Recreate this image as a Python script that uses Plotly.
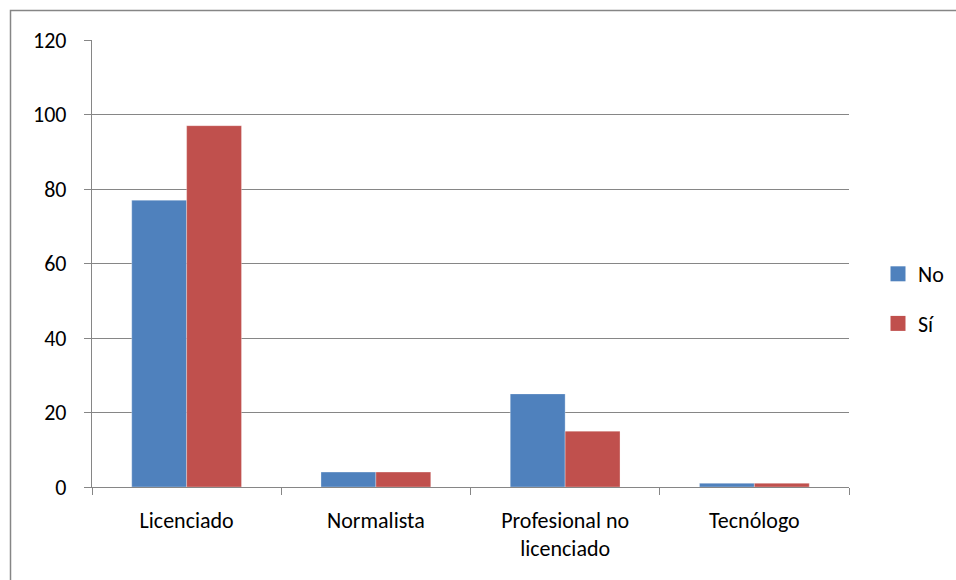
import plotly.graph_objects as go

categories = ["Licenciado", "Normalista", "Profesional no<br>licenciado", "Tecnólogo"]
series_names = ["No", "Sí"]
values_no = [77, 4, 25, 1]
values_si = [97, 4, 15, 1]
y_ticks = [0, 20, 40, 60, 80, 100, 120]

colors = ["#4F81BD", "#C0504D"]
FONT = "Calibri, Carlito, Lato, sans-serif"
W, H = 956, 580
ML, MR, MT, MB = 92, 107, 40, 93

fig = go.Figure()
for i, (name, vals) in enumerate(zip(series_names, [values_no, values_si])):
    fig.add_trace(go.Bar(
        x=categories, y=vals, name=name,
        marker=dict(color=colors[i], line=dict(color="rgba(255,255,255,0.5)", width=0.6)),
        legendgroup=name, showlegend=False,
    ))
    # legend entry with a larger square swatch
    fig.add_trace(go.Scatter(
        x=[None], y=[None], name=name, mode="markers",
        marker=dict(symbol="square", size=15, color=colors[i]),
        legendgroup=name, showlegend=True,
    ))

pw = W - ML - MR
ph = H - MT - MB
# outer chart border (extends beyond right/bottom edge as in reference)
fig.add_shape(type="rect", xref="paper", yref="paper",
              x0=(10.5 - ML) / pw, x1=(W + 5 - ML) / pw,
              y0=-(H + 5 - MT - ph) / ph, y1=(ph + MT - 10.5) / ph,
              line=dict(color="#868686", width=1.5), layer="below")

fig.update_layout(
    width=W, height=H,
    margin=dict(l=ML, r=MR, t=MT, b=MB, pad=0, autoexpand=False),
    paper_bgcolor="white", plot_bgcolor="white",
    barmode="group", bargap=0.42, bargroupgap=0,
    font=dict(family=FONT, size=22, color="black"),
    showlegend=True,
    legend=dict(xref="container", yref="container", x=878 / W, xanchor="left",
                y=1 - 253 / H, yanchor="top",
                font=dict(size=22), tracegroupgap=18, traceorder="grouped",
                bgcolor="rgba(0,0,0,0)", itemwidth=30),
    xaxis=dict(
        showgrid=False, showline=True, linecolor="#868686", linewidth=1.2,
        ticks="outside", tickson="boundaries", ticklen=7, tickcolor="#868686",
        ticklabelstandoff=13,
        tickfont=dict(size=22, family=FONT), range=[-0.5, 3.5], fixedrange=True,
    ),
    yaxis=dict(
        range=[0, 120], tickvals=y_ticks, showgrid=True, gridcolor="#868686", gridwidth=1.2,
        showline=True, linecolor="#868686", linewidth=1.2,
        ticks="outside", ticklen=7, tickcolor="#868686", ticklabelstandoff=13,
        tickfont=dict(size=22, family=FONT), zeroline=False,
    ),
)

fig.write_html("out.html", config={"displayModeBar": False},
               post_script="document.body.style.margin='0';")
